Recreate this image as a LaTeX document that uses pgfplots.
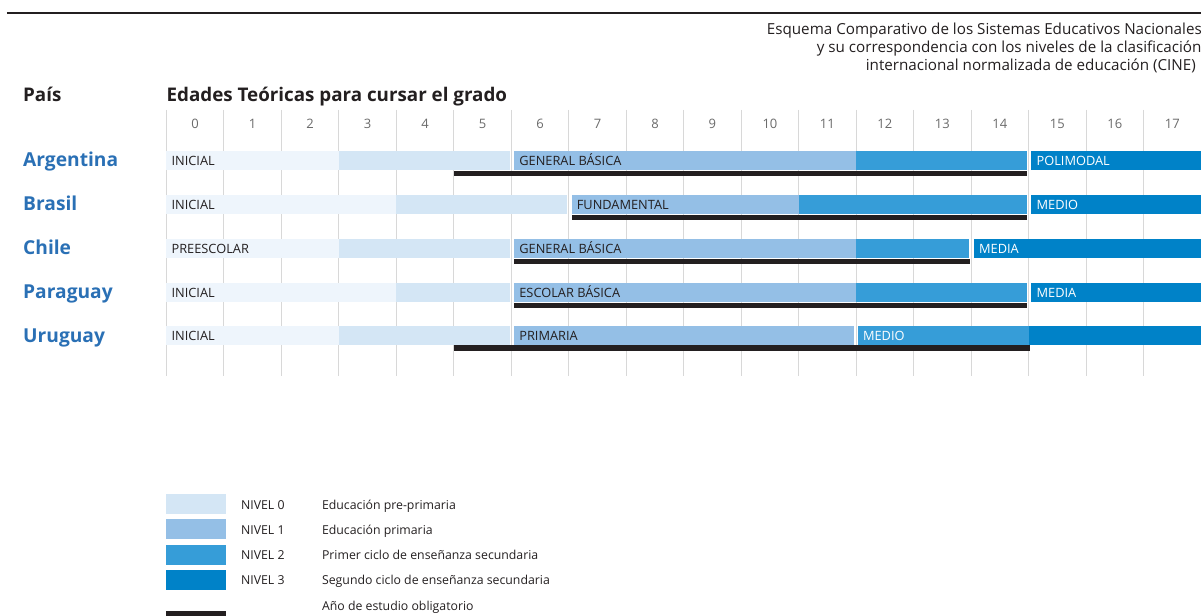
\documentclass[border=0pt]{standalone}
\usepackage{pgfplots}
\pgfplotsset{compat=1.18}
\usepackage{fontspec}
\setmainfont{Open Sans}
\definecolor{pale}{HTML}{EEF5FC}
\definecolor{nA}{HTML}{D4E6F5}
\definecolor{nB}{HTML}{94BFE6}
\definecolor{nC}{HTML}{369DD8}
\definecolor{nD}{HTML}{0082C8}
\definecolor{blk}{HTML}{231F20}
\definecolor{country}{HTML}{2A70B5}
\definecolor{gridc}{HTML}{D8D8D8}
\definecolor{numc}{HTML}{6A6A6A}
% segment: x0, x1, ytop, ybottom, colour
\newcommand{\seg}[5]{\addplot[fill=#5,draw=none] coordinates {(#1,#3) (#2,#3) (#2,#4) (#1,#4)};}
\newcommand{\fs}[1]{\fontsize{#1bp}{#1bp}\selectfont}
\begin{document}
\begin{tikzpicture}
\begin{axis}[name=ax, scale only axis, x=57.5bp, y=1bp, y dir=reverse,
  xmin=-2.8957, xmax=18, ymin=0, ymax=616, enlargelimits=false,
  hide axis, clip=false]
% grid lines
\pgfplotsinvokeforeach{0,...,17}{\draw[gridc, line width=1bp] (axis cs:#1,110) -- (axis cs:#1,376);}
% header numbers
\pgfplotsinvokeforeach{0,...,17}{\node[anchor=base, inner sep=0, text=numc, font=\fs{13}] at ([xshift=28.75bp]axis cs:#1,128.7) {#1};}
% top rule
\draw[blk, line width=2.5bp] ([xshift=7bp]axis cs:-2.8957,13) -- (axis cs:18,13);
% title
\tikzset{tt/.style={anchor=base west, inner sep=0, font=\fs{15.2}, text=blk}}
\node[tt] at ([xshift=767bp]axis cs:-2.8957,34.5) {Esquema Comparativo de los Sistemas Educativos Nacionales};
\node[tt] at ([xshift=817bp]axis cs:-2.8957,53) {y su correspondencia con los niveles de la clasificación};
\node[tt] at ([xshift=866bp]axis cs:-2.8957,71) {internacional normalizada de educación (CINE)};
% headers
\node[anchor=base west, inner sep=0, font=\fs{18.8}\bfseries, text=blk] at ([xshift=23bp]axis cs:-2.8957,101.5) {País};
\node[anchor=base west, inner sep=0, font=\fs{18.8}\bfseries, text=blk] at (axis cs:0,101.5) {Edades Teóricas para cursar el grado};
% ---- Argentina (top 151)
\seg{0}{3}{151}{170}{pale}
\seg{3}{5.97}{151}{170}{nA}
\seg{6.05}{12}{151}{170}{nB}
\seg{12}{14.97}{151}{170}{nC}
\seg{15.05}{18}{151}{170}{nD}
\seg{5}{14.98}{170.8}{176.2}{blk}
% ---- Brasil (top 195)
\seg{0}{4}{195}{214}{pale}
\seg{4}{6.97}{195}{214}{nA}
\seg{7.05}{11}{195}{214}{nB}
\seg{11}{14.97}{195}{214}{nC}
\seg{15.05}{18}{195}{214}{nD}
\seg{7.05}{14.98}{214.8}{220.2}{blk}
% ---- Chile (top 239)
\seg{0}{3}{239}{258}{pale}
\seg{3}{5.97}{239}{258}{nA}
\seg{6.05}{12}{239}{258}{nB}
\seg{12}{13.97}{239}{258}{nC}
\seg{14.05}{18}{239}{258}{nD}
\seg{6.05}{13.98}{258.8}{264.2}{blk}
% ---- Paraguay (top 283)
\seg{0}{4}{283}{302}{pale}
\seg{4}{5.97}{283}{302}{nA}
\seg{6.05}{12}{283}{302}{nB}
\seg{12}{14.97}{283}{302}{nC}
\seg{15.05}{18}{283}{302}{nD}
\seg{6.05}{14.98}{302.8}{308.2}{blk}
% ---- Uruguay (top 326.5)
\seg{0}{3}{326.5}{345.5}{pale}
\seg{3}{5.97}{326.5}{345.5}{nA}
\seg{6.05}{11.96}{326.5}{345.5}{nB}
\seg{12.03}{15}{326.5}{345.5}{nC}
\seg{15}{18}{326.5}{345.5}{nD}
\seg{5}{15.02}{345.3}{350.7}{blk}
% country names
\foreach \n/\y in {Argentina/167, Brasil/211, Chile/255, Paraguay/298.8, Uruguay/342.6}{
  \edef\tmp{\noexpand\node[anchor=base west, inner sep=0, font=\noexpand\fs{19.2}\noexpand\bfseries, text=country] at ([xshift=23bp]axis cs:-2.8957,\y) {\n};}\tmp}
% bar labels
\tikzset{bl/.style={anchor=base west, inner sep=0, font=\fs{12.8}, text=blk, xshift=5bp}, wl/.style={bl, text=white}}
\node[bl] at (axis cs:0,165.6) {INICIAL};
\node[bl] at (axis cs:6.05,165.6) {GENERAL BÁSICA};
\node[wl] at (axis cs:15.05,165.6) {POLIMODAL};
\node[bl] at (axis cs:0,209.6) {INICIAL};
\node[bl] at (axis cs:7.05,209.6) {FUNDAMENTAL};
\node[wl] at (axis cs:15.05,209.6) {MEDIO};
\node[bl] at (axis cs:0,253.6) {PREESCOLAR};
\node[bl] at (axis cs:6.05,253.6) {GENERAL BÁSICA};
\node[wl] at (axis cs:14.05,253.6) {MEDIA};
\node[bl] at (axis cs:0,297.6) {INICIAL};
\node[bl] at (axis cs:6.05,297.6) {ESCOLAR BÁSICA};
\node[wl] at (axis cs:15.05,297.6) {MEDIA};
\node[bl] at (axis cs:0,341.1) {INICIAL};
\node[bl] at (axis cs:6.05,341.1) {PRIMARIA};
\node[wl] at (axis cs:12.03,341.1) {MEDIO};
% legend
\fill[nA] (axis cs:0,494) rectangle (axis cs:1.035,514);
\fill[nB] (axis cs:0,519.5) rectangle (axis cs:1.035,539.5);
\fill[nC] (axis cs:0,545) rectangle (axis cs:1.035,565);
\fill[nD] (axis cs:0,570.5) rectangle (axis cs:1.035,590.5);
\fill[blk] (axis cs:0,611) rectangle (axis cs:1.035,620);
\tikzset{lg/.style={anchor=base west, inner sep=0, font=\fs{12.3}, text=blk}}
\node[lg] at ([xshift=241bp]axis cs:-2.8957,509.3) {NIVEL 0};
\node[lg] at ([xshift=241bp]axis cs:-2.8957,534.4) {NIVEL 1};
\node[lg] at ([xshift=241bp]axis cs:-2.8957,559.8) {NIVEL 2};
\node[lg] at ([xshift=241bp]axis cs:-2.8957,585) {NIVEL 3};
\node[lg] at ([xshift=322bp]axis cs:-2.8957,509.3) {Educación pre-primaria};
\node[lg] at ([xshift=322bp]axis cs:-2.8957,534.4) {Educación primaria};
\node[lg] at ([xshift=322bp]axis cs:-2.8957,559.8) {Primer ciclo de enseñanza secundaria};
\node[lg] at ([xshift=322bp]axis cs:-2.8957,585) {Segundo ciclo de enseñanza secundaria};
\node[lg] at ([xshift=322bp]axis cs:-2.8957,610.7) {Año de estudio obligatorio};
\end{axis}
\pgfresetboundingbox
\path[use as bounding box] (ax.south west) rectangle (ax.north east);
\end{tikzpicture}
\end{document}
